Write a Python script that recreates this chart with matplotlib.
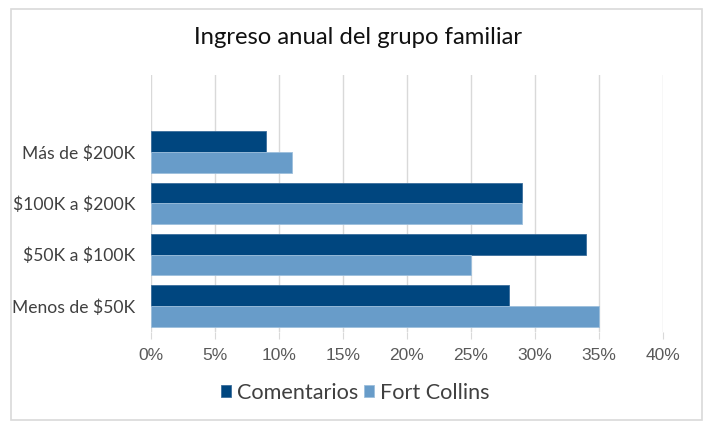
import matplotlib
matplotlib.use("Agg")
import matplotlib.pyplot as plt
from matplotlib.patches import Rectangle
import numpy as np

categories = ["Menos de \\$50K", "\\$50K a \\$100K", "\\$100K a \\$200K", "Más de \\$200K"]
comentarios = [28, 34, 29, 9]
fort_collins = [35, 25, 29, 11]
series_names = ["Comentarios", "Fort Collins"]
xticks = [0, 5, 10, 15, 20, 25, 30, 35, 40]
title = "Ingreso anual del grupo familiar"

c_dark = "#00467F"
c_light = "#689CC9"

W, H = 709, 424
fig = plt.figure(figsize=(W / 100, H / 100), dpi=100)
ax = fig.add_axes([151 / W, 1 - 331.7 / H, 512 / W, 256.7 / H])

y = np.arange(len(categories))
h = 0.4
ax.barh(y + h / 2, comentarios, height=h, color=c_dark, edgecolor="#3C6E9C", linewidth=0.6, label=series_names[0], zorder=3)
ax.barh(y - h / 2, fort_collins, height=h, color=c_light, edgecolor="#9DBFDD", linewidth=0.6, label=series_names[1], zorder=3)

ax.set_xlim(0, 40)
ax.set_ylim(-0.5, 4.5)
ax.set_xticks(xticks)
ax.set_xticklabels([f"{v}%" for v in xticks], fontsize=12.5, color="#595959", family="Liberation Sans")
ax.set_yticks(y)
ax.set_yticklabels(categories, fontsize=12.6, color="#404040", family="Lato")
ax.tick_params(axis="y", length=0, pad=11.5)
ax.tick_params(axis="x", length=5, color="#D9D9D9", pad=7, direction="out")
ax.grid(axis="x", color="#D9D9D9", linewidth=1, zorder=0)
for s in ax.spines.values():
    s.set_visible(False)

fig.text(358.5 / W, 1 - 38 / H, title, ha="center", va="center", fontsize=17.2, color="#111111", family="Lato")

leg = fig.legend(loc="center", bbox_to_anchor=(355 / W, 1 - 393 / H), ncol=2, frameon=False,
                 prop={"family": "Lato", "size": 15.6}, handlelength=0.5, handleheight=0.5,
                 handletextpad=0.25, columnspacing=0.25, labelcolor="#404040")

fig.patches.append(Rectangle((11 / W, 1 - 420 / H), 691 / W, 411 / H, transform=fig.transFigure,
                             fill=False, edgecolor="#D9D9D9", linewidth=1.2))

fig.savefig("out.png", dpi=100)
